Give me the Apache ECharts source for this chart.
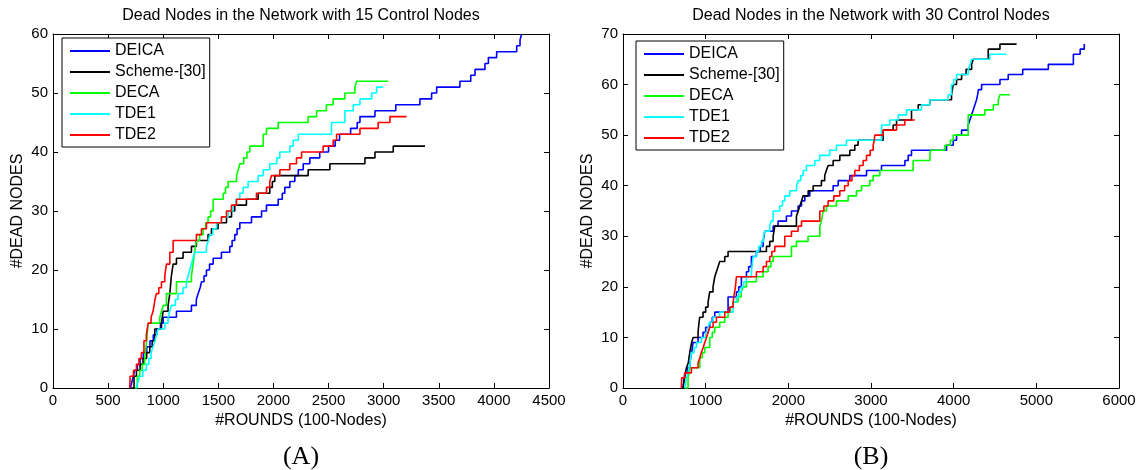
<!DOCTYPE html>
<html>
<head>
<meta charset="utf-8">
<script src="https://cdn.jsdelivr.net/npm/echarts@6/dist/echarts.min.js"></script>
<style>
html,body{margin:0;padding:0;background:#fff;}
#c{width:1140px;height:470px;}
</style>
</head>
<body>
<div id="c"></div>
<script>
// ---------- data ----------
const seriesNames = ['DEICA', 'Scheme-[30]', 'DECA', 'TDE1', 'TDE2'];
const seriesColors = ['#0000ff', '#000000', '#00ff00', '#00ffff', '#ff0000'];

const titleA = 'Dead Nodes in the Network with 15 Control Nodes';
const titleB = 'Dead Nodes in the Network with 30 Control Nodes';
const xNameA = '#ROUNDS (100-Nodes)';
const yNameA = '#DEAD NODES';
const panelLabels = ['(A)', '(B)'];

// Panel A: [round, dead nodes] (value changes at the given round)
const A_DEICA = [[702,0],[715,1],[728,2],[741,3],[765,4],[790,5],[820,6],[850,7],[880,8],[910,9],[940,10],[975,11],[1000,12],[1120,13],[1256,14],[1300,15],[1317,16],[1335,17],[1347,18],[1370,19],[1392,20],[1420,21],[1453,22],[1528,23],[1604,24],[1625,25],[1649,26],[1670,27],[1695,28],[1801,29],[1892,30],[1937,31],[2043,32],[2080,33],[2103,34],[2149,35],[2194,36],[2225,37],[2270,38],[2330,39],[2420,40],[2500,41],[2560,42],[2600,43],[2700,44],[2760,45],[2785,46],[2921,47],[3110,48],[3329,49],[3435,50],[3481,51],[3692,52],[3790,53],[3829,54],[3919,55],[3950,56],[4025,57],[4207,58],[4237,59],[4252,60]];
const A_SCHEME = [[711,0],[735,2],[757,3],[790,4],[817,5],[850,6],[878,7],[900,8],[923,10],[984,11],[999,13],[1044,14],[1060,16],[1074,19],[1090,21],[1120,22],[1180,23],[1256,24],[1301,25],[1407,26],[1438,27],[1498,28],[1574,29],[1620,30],[1649,31],[1755,32],[1861,33],[1967,34],[1990,35],[2012,36],[2315,37],[2512,38],[2830,39],[2921,40],[3087,41],[3375,41]];
const A_DECA = [[741,0],[765,2],[787,3],[810,4],[832,5],[850,8],[863,11],[969,12],[984,13],[1000,14],[1029,16],[1120,18],[1256,19],[1271,21],[1285,23],[1301,25],[1330,26],[1362,27],[1385,28],[1407,29],[1430,30],[1453,32],[1544,33],[1565,34],[1589,35],[1665,36],[1680,37],[1695,38],[1730,39],[1760,40],[1786,41],[1907,43],[1937,44],[2043,45],[2315,46],[2391,47],[2480,48],[2542,49],[2648,50],[2739,51],[2754,52],[3042,52]];
const A_TDE1 = [[757,0],[770,1],[787,2],[815,3],[847,4],[870,5],[890,6],[908,7],[925,8],[940,9],[953,10],[1014,11],[1044,12],[1060,13],[1074,14],[1110,15],[1135,16],[1180,17],[1210,18],[1226,19],[1240,20],[1256,21],[1270,22],[1286,23],[1392,24],[1410,25],[1423,26],[1450,27],[1483,28],[1528,29],[1589,30],[1634,31],[1660,32],[1695,33],[1725,34],[1770,35],[1861,36],[1907,37],[1967,38],[2030,39],[2058,40],[2149,41],[2180,42],[2225,43],[2527,45],[2648,47],[2724,48],[2785,49],[2891,50],[2936,51],[2996,51]];
const A_TDE2 = [[696,0],[700,2],[730,3],[757,4],[780,5],[802,6],[825,8],[847,9],[863,11],[890,12],[908,13],[925,15],[938,16],[960,17],[984,18],[1014,19],[1029,21],[1060,23],[1090,25],[1301,26],[1347,27],[1392,28],[1528,29],[1574,30],[1619,31],[1665,32],[1846,33],[1937,34],[1967,35],[1982,36],[2058,37],[2149,38],[2209,39],[2255,40],[2451,41],[2542,42],[2573,43],[2785,44],[2950,45],[3057,46],[3208,46]];

// Panel B
const B_DEICA = [[726,0],[747,3],[780,4],[807,5],[830,7],[848,9],[908,10],[968,11],[1000,12],[1049,13],[1080,14],[1110,15],[1271,18],[1372,19],[1400,20],[1432,22],[1493,23],[1520,24],[1553,26],[1614,27],[1660,28],[1695,29],[1715,31],[1816,32],[1876,33],[1977,34],[2038,35],[2118,36],[2159,37],[2199,38],[2260,39],[2542,40],[2603,41],[2744,42],[2946,43],[3127,44],[3410,45],[3450,46],[3490,47],[3914,48],[3995,49],[4035,50],[4096,51],[4176,52],[4196,53],[4217,54],[4237,55],[4257,56],[4277,57],[4290,58],[4300,59],[4338,60],[4560,61],[4660,62],[4835,63],[5145,64],[5448,66],[5530,67],[5580,68]];
const B_SCHEME = [[726,0],[745,2],[767,4],[790,5],[807,7],[830,9],[848,10],[908,11],[920,13],[928,14],[968,15],[1000,16],[1029,17],[1049,19],[1089,20],[1110,22],[1130,23],[1150,24],[1170,25],[1231,26],[1271,27],[1735,28],[1775,29],[1816,30],[1836,32],[2098,34],[2120,35],[2139,36],[2160,37],[2179,38],[2240,39],[2300,40],[2400,41],[2440,42],[2460,43],[2481,44],[2542,45],[2623,46],[2744,47],[2804,48],[2844,49],[3147,51],[3268,52],[3309,53],[3490,55],[3571,56],[3712,57],[3974,58],[3995,60],[4035,61],[4096,62],[4150,63],[4217,64],[4237,65],[4418,67],[4560,68],[4761,68]];
const B_DECA = [[747,0],[787,2],[807,4],[928,6],[960,7],[989,8],[1049,10],[1080,11],[1110,12],[1170,13],[1231,14],[1271,15],[1300,16],[1332,17],[1392,18],[1430,19],[1453,20],[1493,21],[1614,22],[1695,23],[1755,24],[1790,25],[1816,26],[2038,28],[2098,29],[2239,30],[2381,32],[2400,33],[2421,35],[2461,36],[2582,37],[2724,38],[2824,39],[2885,40],[2985,41],[3026,42],[3107,43],[3510,45],[3712,46],[3720,47],[3894,48],[3960,49],[3995,50],[4176,54],[4378,55],[4479,56],[4540,57],[4560,58],[4680,58]];
const B_TDE1 = [[747,0],[767,2],[787,3],[810,5],[827,7],[860,8],[888,9],[948,10],[1000,11],[1030,12],[1049,13],[1089,14],[1170,15],[1332,17],[1372,18],[1400,19],[1432,20],[1460,21],[1493,22],[1553,23],[1560,24],[1574,26],[1614,27],[1640,28],[1675,29],[1700,30],[1715,31],[1775,32],[1790,33],[1816,35],[1896,36],[1930,37],[1957,38],[2018,39],[2100,40],[2118,41],[2150,42],[2179,43],[2219,44],[2320,45],[2380,46],[2502,47],[2582,48],[2703,49],[3127,52],[3228,53],[3329,54],[3430,55],[3611,56],[3712,57],[3934,58],[3974,60],[4000,61],[4035,62],[4176,63],[4200,64],[4217,65],[4438,66],[4640,66]];
const B_TDE2 = [[706,0],[710,2],[747,3],[827,4],[908,5],[930,6],[948,7],[970,8],[989,9],[1010,10],[1030,11],[1049,12],[1090,13],[1130,14],[1231,15],[1290,16],[1332,17],[1350,19],[1360,20],[1372,22],[1614,23],[1695,24],[1735,25],[1775,26],[1800,27],[1836,28],[1957,30],[2038,31],[2118,32],[2159,33],[2381,35],[2430,36],[2481,37],[2550,38],[2623,39],[2680,40],[2724,41],[2770,42],[2804,43],[2860,44],[2905,45],[2946,46],[2990,47],[3026,48],[3040,49],[3046,50],[3147,51],[3309,52],[3410,53],[3531,53]];

const A_X = {min: 0, max: 4500, interval: 500};
const A_Y = {min: 0, max: 60, interval: 10};
const B_X = {min: 0, max: 6000, interval: 1000};
const B_Y = {min: 0, max: 70, interval: 10};

// ---------- chart ----------
const FONT = 'Liberation Sans, Arial, sans-serif';
const chart = echarts.init(document.getElementById('c'), null, {renderer: 'canvas'});

function mkAxis(type, gridIndex, pos, scale, name, showLabel) {
  const a = {
    type: 'value', gridIndex: gridIndex, position: pos,
    min: scale.min, max: scale.max, interval: scale.interval,
    splitLine: {show: false},
    axisLine: {show: true, onZero: false, lineStyle: {color: '#000', width: 1}},
    axisTick: {show: true, inside: true, length: 5, lineStyle: {color: '#000', width: 1}},
    axisLabel: {show: showLabel, color: '#000', fontSize: 15, fontFamily: FONT, margin: 5,
      formatter: function (v) { return String(v); }},
  };
  if (name) {
    a.name = name;
    a.nameLocation = 'middle';
    a.nameGap = type === 'x' ? 24 : 27;
    a.nameTextStyle = {color: '#000', fontSize: 16, fontFamily: FONT};
  }
  return a;
}

const grids = [
  {left: 53, top: 34, width: 496, height: 354},
  {left: 623, top: 34, width: 496, height: 354}
];

const xAxes = [
  mkAxis('x', 0, 'bottom', A_X, xNameA, true),
  mkAxis('x', 0, 'top', A_X, null, false),
  mkAxis('x', 1, 'bottom', B_X, xNameA, true),
  mkAxis('x', 1, 'top', B_X, null, false)
];
const yAxes = [
  mkAxis('y', 0, 'left', A_Y, yNameA, true),
  mkAxis('y', 0, 'right', A_Y, null, false),
  mkAxis('y', 1, 'left', B_Y, yNameA, true),
  mkAxis('y', 1, 'right', B_Y, null, false)
];

const dataA = [A_DEICA, A_SCHEME, A_DECA, A_TDE1, A_TDE2];
const dataB = [B_DEICA, B_SCHEME, B_DECA, B_TDE1, B_TDE2];

const series = [];
[dataA, dataB].forEach(function (set, gi) {
  set.forEach(function (d, i) {
    series.push({
      type: 'line', name: seriesNames[i], data: d, step: 'end',
      xAxisIndex: gi * 2, yAxisIndex: gi * 2,
      showSymbol: false, symbol: 'none',
      color: seriesColors[i],
      lineStyle: {color: seriesColors[i], width: 1.6},
      z: 2 + i, animation: false
    });
  });
});

function mkLegend(left, top) {
  return {
    orient: 'vertical', left: left, top: top,
    data: seriesNames,
    icon: 'rect', itemWidth: 40, itemHeight: 2, itemGap: 5,
    padding: [5, 4, 4, 8],
    borderColor: '#000', borderWidth: 1, backgroundColor: '#fff',
    textStyle: {color: '#000', fontSize: 16, fontFamily: FONT, lineHeight: 16},
    selectedMode: false
  };
}

chart.setOption({
  animation: false,
  backgroundColor: '#fff',
  grid: grids,
  xAxis: xAxes,
  yAxis: yAxes,
  series: series,
  legend: [mkLegend(62, 38), mkLegend(636, 41)],
  graphic: [
    {type: 'text', x: 301, y: 16, style: {text: titleA, fontSize: 16, fontFamily: FONT, fill: '#000', textAlign: 'center', textVerticalAlign: 'middle'}},
    {type: 'text', x: 871, y: 16, style: {text: titleB, fontSize: 16, fontFamily: FONT, fill: '#000', textAlign: 'center', textVerticalAlign: 'middle'}},
    {type: 'text', x: 301, y: 457, style: {text: panelLabels[0], fontSize: 26, fontFamily: 'Liberation Serif, Times New Roman, serif', fill: '#000', textAlign: 'center', textVerticalAlign: 'middle'}},
    {type: 'text', x: 871, y: 457, style: {text: panelLabels[1], fontSize: 26, fontFamily: 'Liberation Serif, Times New Roman, serif', fill: '#000', textAlign: 'center', textVerticalAlign: 'middle'}}
  ]
});
</script>
</body>
</html>
